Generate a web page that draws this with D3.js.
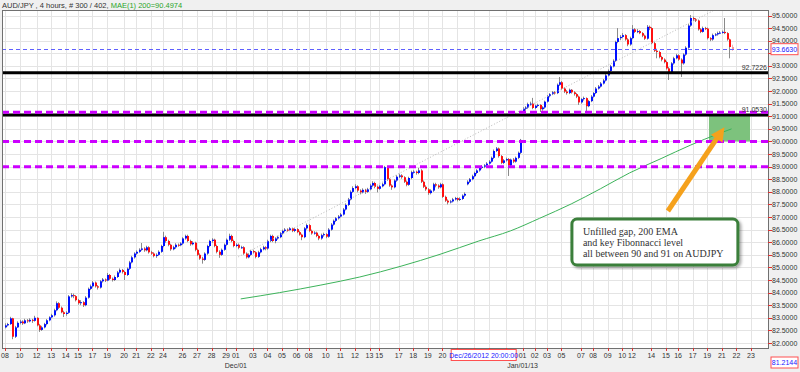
<!DOCTYPE html>
<html>
<head>
<meta charset="utf-8">
<script src="https://cdn.jsdelivr.net/npm/d3@7"></script>
<style>
  body { margin: 0; background: #f0f0f0; }
  svg { display: block; font-family: "Liberation Sans", Arial, sans-serif; }
</style>
</head>
<body>
<div id="vis1"></div>
<script>
// AUD/JPY 4h candles (bar 0 = Nov 08)
const opens = [
  82.62,82.70,82.75,82.98,82.25,82.62,82.80,82.85,82.78,82.90,
  82.86,82.92,82.88,83.00,82.70,82.52,82.62,82.75,82.90,83.02,
  83.10,83.30,83.58,83.40,83.22,83.15,83.20,83.85,83.90,83.86,
  83.70,83.58,83.62,83.50,83.80,84.15,84.25,84.40,84.25,84.20,
  84.45,84.52,84.48,84.70,84.55,84.50,84.62,84.80,84.90,84.82,
  84.70,84.95,85.20,85.40,85.55,85.62,85.70,85.75,85.68,85.80,
  85.60,85.55,85.45,85.50,85.62,85.85,86.20,86.05,85.90,85.72,
  85.80,85.90,85.88,85.95,86.15,86.25,86.05,85.92,85.98,85.70,
  85.50,85.35,85.30,85.55,85.85,86.05,86.10,85.85,85.62,85.50,
  85.70,85.90,86.10,86.25,86.05,85.85,85.90,85.78,85.80,85.55,
  85.40,85.50,85.65,85.60,85.42,85.60,85.72,85.80,85.75,86.05,
  86.25,86.05,86.15,86.20,86.35,86.45,86.50,86.48,86.55,86.45,
  86.52,86.40,86.30,86.20,86.55,86.68,86.45,86.35,86.38,86.25,
  86.15,86.28,86.32,86.22,86.50,86.70,86.85,86.95,87.02,87.10,
  87.30,87.48,87.70,88.00,88.15,88.22,88.05,87.98,88.08,88.00,
  88.10,88.25,88.35,88.20,88.12,88.22,88.30,88.98,88.50,88.25,
  88.18,88.45,88.60,88.65,88.58,88.40,88.28,88.55,88.78,88.80,
  88.75,88.85,88.40,88.20,88.10,87.95,88.05,88.30,88.25,88.18,
  88.30,87.80,87.65,87.58,87.62,87.70,87.75,87.68,87.72,87.85,
  88.30,88.40,88.50,88.62,88.75,88.85,88.95,89.00,89.05,89.12,
  89.20,89.35,89.62,89.72,89.42,89.15,89.25,89.30,89.05,89.28,
  89.20,89.35,89.55,91.20,91.30,91.35,91.48,91.50,91.33,91.42,
  91.45,91.28,91.35,91.58,91.80,91.88,91.95,91.92,92.25,92.35,
  92.10,91.98,91.92,92.05,91.95,91.88,91.78,91.55,91.68,91.72,
  91.40,91.60,91.78,91.92,92.10,92.18,92.30,92.42,92.62,92.80,
  92.98,93.20,93.95,94.10,94.15,94.22,94.05,93.85,94.10,94.45,
  94.35,94.38,94.30,94.20,94.08,94.55,94.50,93.90,93.60,93.55,
  93.35,93.25,93.15,92.90,92.75,93.10,93.30,93.42,93.25,93.10,
  93.45,93.72,94.60,94.90,94.85,94.80,94.45,94.35,94.50,94.48,
  94.10,94.05,94.22,94.25,94.30,94.32,94.35,94.30,94.05,93.75
];
const highs = [
  82.78,82.80,83.04,83.00,82.68,82.86,82.92,82.90,82.96,82.95,
  82.98,82.96,83.08,83.02,82.76,82.68,82.80,82.95,83.06,83.16,
  83.36,83.65,83.62,83.45,83.28,83.26,83.90,83.98,83.96,83.90,
  83.75,83.70,83.66,83.86,84.20,84.32,84.46,84.44,84.30,84.50,
  84.58,84.56,84.78,84.74,84.60,84.68,84.86,84.96,84.94,84.86,
  85.00,85.26,85.46,85.60,85.68,85.76,85.97,85.80,85.86,85.84,
  85.66,85.60,85.56,85.68,85.90,86.41,86.26,86.10,85.94,85.86,
  85.96,85.95,86.00,86.20,86.30,86.30,86.10,86.04,86.02,85.75,
  85.56,85.42,85.60,85.90,86.10,86.16,86.14,85.90,85.68,85.75,
  85.95,86.15,86.34,86.30,86.10,85.96,85.95,85.86,85.84,85.60,
  85.56,85.70,85.70,85.64,85.66,85.78,85.86,85.84,86.10,86.30,
  86.30,86.20,86.26,86.40,86.50,86.56,86.55,86.60,86.58,86.56,
  86.56,86.45,86.34,86.60,86.74,86.72,86.50,86.44,86.42,86.30,
  86.34,86.38,86.36,86.56,86.76,86.90,87.00,87.08,87.16,87.36,
  87.54,87.76,88.06,88.22,88.30,88.26,88.10,88.14,88.12,88.16,
  88.32,88.42,88.40,88.25,88.28,88.36,89.03,89.00,88.55,88.30,
  88.50,88.66,88.72,88.70,88.62,88.45,88.60,88.84,88.86,88.84,
  88.95,88.90,88.45,88.26,88.15,88.10,88.36,88.36,88.30,88.36,
  88.34,87.85,87.70,87.68,87.76,87.80,87.78,87.78,87.90,87.98,
  88.46,88.55,88.68,88.80,88.90,89.00,89.06,89.10,89.18,89.26,
  89.40,89.68,89.78,89.76,89.46,89.30,89.36,89.34,89.32,89.34,
  89.40,89.60,90.10,91.36,91.40,91.54,91.58,91.73,91.46,91.50,
  91.48,91.40,91.62,91.84,91.92,92.00,92.00,92.30,92.56,92.40,
  92.15,92.04,92.10,92.08,92.00,91.92,91.82,91.72,91.78,91.75,
  91.65,91.84,91.96,92.16,92.24,92.36,92.48,92.68,92.86,93.04,
  93.26,94.00,94.50,94.22,94.30,94.26,94.10,94.16,94.62,94.50,
  94.46,94.42,94.34,94.24,94.62,94.60,94.54,93.95,93.68,93.60,
  93.40,93.30,93.20,92.96,93.15,93.36,93.48,93.46,93.30,93.50,
  93.78,94.66,95.02,94.96,94.90,94.84,94.50,94.56,94.55,94.52,
  94.14,94.28,94.30,94.36,94.38,94.40,94.90,94.34,94.08,93.84
];
const lows = [
  82.58,82.66,82.72,82.15,82.20,82.60,82.74,82.72,82.75,82.80,
  82.82,82.80,82.85,82.66,82.44,82.48,82.58,82.70,82.86,82.98,
  83.05,83.26,83.35,83.18,83.03,83.08,83.16,83.80,83.78,83.65,
  83.52,83.50,83.43,83.46,83.76,84.10,84.20,84.20,84.12,84.16,
  84.40,84.42,84.45,84.50,84.44,84.46,84.58,84.76,84.76,84.50,
  84.66,84.90,85.16,85.35,85.50,85.58,85.66,85.62,85.64,85.55,
  85.50,85.40,85.38,85.46,85.58,85.80,85.98,85.84,85.66,85.68,
  85.74,85.82,85.84,85.90,86.10,86.00,85.86,85.88,85.64,85.45,
  85.30,85.15,85.26,85.50,85.80,85.98,85.80,85.56,85.38,85.46,
  85.66,85.86,86.05,86.00,85.80,85.80,85.72,85.74,85.50,85.35,
  85.36,85.46,85.55,85.36,85.38,85.56,85.68,85.68,85.70,86.00,
  86.00,85.96,86.10,86.16,86.30,86.40,86.42,86.44,86.40,86.40,
  86.36,86.26,86.08,86.16,86.50,86.40,86.30,86.30,86.20,86.08,
  86.10,86.22,86.16,86.18,86.46,86.66,86.80,86.90,86.98,87.06,
  87.26,87.44,87.66,87.96,88.10,87.98,87.90,87.94,87.92,87.96,
  88.06,88.20,88.14,87.98,88.08,88.18,88.26,88.44,88.20,88.08,
  88.14,88.40,88.55,88.52,88.35,88.22,88.24,88.50,88.72,88.68,
  88.70,88.35,88.15,88.04,87.88,87.90,88.00,88.18,88.12,88.14,
  87.76,87.60,87.50,87.54,87.58,87.66,87.62,87.64,87.68,87.80,
  88.26,88.35,88.46,88.58,88.70,88.80,88.90,88.94,89.00,89.08,
  89.16,89.30,89.58,89.36,89.10,89.10,89.20,88.63,89.00,89.14,
  89.16,89.30,89.50,91.12,91.22,91.30,91.42,91.28,91.28,91.36,
  91.17,91.22,91.30,91.54,91.75,91.84,91.86,91.88,92.20,92.05,
  91.92,91.86,91.88,91.90,91.82,91.72,91.45,91.50,91.62,91.17,
  91.36,91.56,91.74,91.88,92.06,92.14,92.26,92.38,92.58,92.76,
  92.94,93.16,93.90,94.02,94.10,94.00,93.78,93.80,94.06,94.30,
  94.30,94.26,94.14,94.03,94.04,94.42,93.86,93.55,93.30,93.30,
  93.18,93.10,92.85,92.44,92.70,93.05,93.26,93.20,92.56,93.05,
  93.40,93.68,94.55,94.78,94.74,94.40,94.30,94.32,94.42,94.05,
  93.98,94.00,94.18,94.20,94.26,94.28,94.26,94.00,93.30,93.60
];
const closes = [
  82.70,82.75,82.98,82.25,82.62,82.80,82.85,82.78,82.90,82.86,
  82.92,82.88,83.00,82.70,82.52,82.62,82.75,82.90,83.02,83.10,
  83.30,83.58,83.40,83.22,83.15,83.20,83.85,83.90,83.86,83.70,
  83.58,83.62,83.50,83.80,84.15,84.25,84.40,84.25,84.20,84.45,
  84.52,84.48,84.70,84.55,84.50,84.62,84.80,84.90,84.82,84.70,
  84.95,85.20,85.40,85.55,85.62,85.70,85.75,85.68,85.80,85.60,
  85.55,85.45,85.50,85.62,85.85,86.20,86.05,85.90,85.72,85.80,
  85.90,85.88,85.95,86.15,86.25,86.05,85.92,85.98,85.70,85.50,
  85.35,85.30,85.55,85.85,86.05,86.10,85.85,85.62,85.50,85.70,
  85.90,86.10,86.25,86.05,85.85,85.90,85.78,85.80,85.55,85.40,
  85.50,85.65,85.60,85.42,85.60,85.72,85.80,85.75,86.05,86.25,
  86.05,86.15,86.20,86.35,86.45,86.50,86.48,86.55,86.45,86.52,
  86.40,86.30,86.20,86.55,86.68,86.45,86.35,86.38,86.25,86.15,
  86.28,86.32,86.22,86.50,86.70,86.85,86.95,87.02,87.10,87.30,
  87.48,87.70,88.00,88.15,88.22,88.05,87.98,88.08,88.00,88.10,
  88.25,88.35,88.20,88.12,88.22,88.30,88.98,88.50,88.25,88.18,
  88.45,88.60,88.65,88.58,88.40,88.28,88.55,88.78,88.80,88.75,
  88.85,88.40,88.20,88.10,87.95,88.05,88.30,88.25,88.18,88.30,
  87.80,87.65,87.58,87.62,87.70,87.75,87.68,87.72,87.85,87.92,
  88.40,88.50,88.62,88.75,88.85,88.95,89.00,89.05,89.12,89.20,
  89.35,89.62,89.72,89.42,89.15,89.25,89.30,89.05,89.28,89.20,
  89.35,89.55,90.06,91.30,91.35,91.48,91.50,91.33,91.42,91.45,
  91.28,91.35,91.58,91.80,91.88,91.95,91.92,92.25,92.35,92.10,
  91.98,91.92,92.05,91.95,91.88,91.78,91.55,91.68,91.72,91.40,
  91.60,91.78,91.92,92.10,92.18,92.30,92.42,92.62,92.80,92.98,
  93.20,93.95,94.10,94.15,94.22,94.05,93.85,94.10,94.45,94.35,
  94.38,94.30,94.20,94.08,94.55,94.50,93.90,93.60,93.55,93.35,
  93.25,93.15,92.90,92.75,93.10,93.30,93.42,93.25,93.10,93.45,
  93.72,94.60,94.90,94.85,94.80,94.45,94.35,94.50,94.48,94.10,
  94.05,94.22,94.25,94.30,94.32,94.35,94.30,94.05,93.75,93.66
];

// 200 EMA, read at a few bars
const emaBars   = [97, 113, 130, 146, 163, 179, 195, 208, 220, 233, 245, 257, 270, 282, 294, 299];
const emaValues = [83.75, 84.00, 84.30, 84.62, 85.05, 85.52, 86.05, 86.45, 86.95, 87.52, 88.12, 88.75, 89.32, 89.85, 90.32, 90.50];

// dotted trend line (two anchor points)
const trendBars   = [96, 292];
const trendPrices = [85.42, 95.22];

// horizontal levels
const magentaLevels = [91.16, 90.0, 89.0];
const blackLevels   = [92.7226, 91.05];
const blackLabels   = ["92.7226", "91.0530"];
const lastPrice = 93.6630;
const lowLabel  = "81.2144";

// axis ticks (93.5 sits under the last-price box, so it gets no label)
const yTicks = [82, 82.5, 83, 83.5, 84, 84.5, 85, 85.5, 86, 86.5, 87, 87.5, 88, 88.5,
                89, 89.5, 90, 90.5, 91, 91.5, 92, 92.5, 93, 93.5, 94, 94.5, 95];
const yHiddenLabel = 93.5;
const tickBars = [0, 6, 13, 19, 25, 30, 36, 42, 49, 54, 60, 65, 73, 79, 85, 91, 95, 102, 108, 114,
                  120, 125, 132, 138, 144, 150, 154, 162, 168, 174, 180,
                  213, 218, 223, 229, 237, 242, 248, 254, 258, 266, 272, 277, 283, 289, 295, 301, 307];
const tickLabels = ["08","10","12","13","14","15","17","19","20","21","22","24","26","27","28","29","01","03","04","05",
                    "06","08","10","11","12","13","15","17","18","19","20",
                    "01","02","03","05","07","08","09","10","12","14","15","16","17","19","21","22","23"];
// day ticks hidden under the cursor date box (grid only)
const hiddenTickBars = [186, 193, 199, 206];
const monthTicks = [{bar: 95, label: "Dec/01"}, {bar: 213, label: "Jan/01/13"}];
const cursorBar = 197, cursorLabel = "Dec/26/2012 20:00:00";

// annotation
const gapZone = {from: 289.7, to: 306.6, lo: 90.0, hi: 91.05};
const noteLines = ["Unfilled gap, 200 EMA", "and key Fibonnacci level", "all between 90 and 91 on AUDJPY"];

const W = 800, H = 372;
const plot = {left: 2, right: 768, top: 10, bottom: 348};

let svg = d3.select('#vis1').append('svg')
  .attr('width', W)
  .attr('height', H);

svg.append('rect').attr('width', W).attr('height', H).attr('fill', '#f0f0f0');

let x = d3.scaleLinear().domain([0, 300]).range([5, 734]);
let y = d3.scaleLinear().domain([82, 95]).range([343, 15.5]);

let allTicks = tickBars.concat(hiddenTickBars);

svg.append('clipPath').attr('id', 'clip')
  .append('rect')
  .attr('x', plot.left).attr('y', plot.top)
  .attr('width', plot.right - plot.left).attr('height', plot.bottom - plot.top);

// plot background
svg.append('rect')
  .attr('x', plot.left).attr('y', plot.top)
  .attr('width', plot.right - plot.left).attr('height', plot.bottom - plot.top)
  .attr('fill', '#fff');

let g = svg.append('g').attr('clip-path', 'url(#clip)');

// grid
g.append('g').selectAll('line').data(yTicks).join('line')
  .attr('x1', plot.left).attr('x2', plot.right)
  .attr('y1', d => Math.round(y(d)) + 0.5).attr('y2', d => Math.round(y(d)) + 0.5)
  .attr('stroke', '#e4e4e4');
g.append('g').selectAll('line').data(allTicks).join('line')
  .attr('x1', d => Math.round(x(d)) + 0.5).attr('x2', d => Math.round(x(d)) + 0.5)
  .attr('y1', plot.top).attr('y2', plot.bottom)
  .attr('stroke', '#e4e4e4');

// gap zone
g.append('rect')
  .attr('x', x(gapZone.from)).attr('width', x(gapZone.to) - x(gapZone.from))
  .attr('y', y(gapZone.hi)).attr('height', y(gapZone.lo) - y(gapZone.hi))
  .attr('fill', '#7dc27d');

// candles
let bars = closes.map((c, i) => ({i, o: opens[i], h: highs[i], l: lows[i], c}));

g.append('g').selectAll('line').data(bars).join('line')
  .attr('x1', d => Math.round(x(d.i)) + 0.5).attr('x2', d => Math.round(x(d.i)) + 0.5)
  .attr('y1', d => y(d.h)).attr('y2', d => y(d.l))
  .attr('stroke', d => d.i === bars.length - 1 ? '#f4b0b0' : '#8a8a8a');

g.append('g').selectAll('rect').data(bars).join('rect')
  .attr('x', d => Math.round(x(d.i)))
  .attr('width', 2)
  .attr('y', d => y(Math.max(d.o, d.c)))
  .attr('height', d => Math.max(1, Math.abs(y(d.o) - y(d.c))))
  .attr('fill', d => d.i === bars.length - 1 ? '#f79a9a' : (d.c >= d.o ? '#0010ff' : '#ff1010'));

// EMA
g.append('path')
  .datum(emaBars.map((b, i) => [b, emaValues[i]]))
  .attr('fill', 'none')
  .attr('stroke', '#3cb35a')
  .attr('stroke-width', 1)
  .attr('d', d3.line().x(d => x(d[0])).y(d => y(d[1])).curve(d3.curveMonotoneX));

// trend line
g.append('line')
  .attr('x1', x(trendBars[0])).attr('y1', y(trendPrices[0]))
  .attr('x2', x(trendBars[1])).attr('y2', y(trendPrices[1]))
  .attr('stroke', '#b8b8b8').attr('stroke-dasharray', '1,2');

// levels
g.append('line')
  .attr('x1', plot.left).attr('x2', plot.right)
  .attr('y1', Math.round(y(lastPrice)) + 0.5).attr('y2', Math.round(y(lastPrice)) + 0.5)
  .attr('stroke', '#6060ff').attr('stroke-dasharray', '4,3');

g.append('g').selectAll('line').data(blackLevels).join('line')
  .attr('x1', plot.left).attr('x2', plot.right)
  .attr('y1', d => y(d)).attr('y2', d => y(d))
  .attr('stroke', '#000').attr('stroke-width', 3);

g.append('g').selectAll('line').data(magentaLevels).join('line')
  .attr('x1', plot.left).attr('x2', plot.right)
  .attr('y1', d => y(d)).attr('y2', d => y(d))
  .attr('stroke', '#cc00ff').attr('stroke-width', 3)
  .attr('stroke-dasharray', '7,4');

svg.append('g').selectAll('text').data(blackLevels).join('text')
  .attr('x', plot.right - 1).attr('y', d => y(d) - 3)
  .attr('text-anchor', 'end')
  .attr('font-size', 7)
  .attr('fill', '#333')
  .text((d, i) => blackLabels[i]);

// arrow
let defs = svg.append('defs');
defs.append('marker')
  .attr('id', 'head')
  .attr('viewBox', '0 -5 10 10')
  .attr('refX', 2).attr('refY', 0)
  .attr('markerUnits', 'userSpaceOnUse')
  .attr('markerWidth', 14).attr('markerHeight', 14)
  .attr('orient', 'auto')
  .append('path').attr('d', 'M0,-5L10,0L0,5Z').attr('fill', '#f5a11c');
defs.append('filter').attr('id', 'shadow')
  .append('feDropShadow')
  .attr('dx', 2).attr('dy', 2).attr('stdDeviation', 1.5)
  .attr('flood-color', '#000').attr('flood-opacity', 0.35);

svg.append('line')
  .attr('x1', x(272.8)).attr('y1', y(87.24))
  .attr('x2', x(293.5)).attr('y2', y(90.2))
  .attr('stroke', '#f5a11c').attr('stroke-width', 5)
  .attr('marker-end', 'url(#head)');

// callout
let note = svg.append('g');
note.append('rect')
  .attr('x', x(233.3)).attr('y', y(86.92))
  .attr('width', x(301.6) - x(233.3)).attr('height', y(85.1) - y(86.92))
  .attr('rx', 5)
  .attr('fill', '#fff')
  .attr('stroke', '#3a7f3a').attr('stroke-width', 3)
  .attr('filter', 'url(#shadow)');
note.selectAll('text').data(noteLines).join('text')
  .attr('x', x(233.3) + 11)
  .attr('y', (d, i) => y(86.92) + 16 + i * 11)
  .attr('font-family', '"Liberation Serif", "DejaVu Serif", serif')
  .attr('font-size', 10)
  .attr('fill', '#333')
  .text(d => d);

// frame
svg.append('rect')
  .attr('x', plot.left + 0.5).attr('y', plot.top + 0.5)
  .attr('width', plot.right - plot.left).attr('height', plot.bottom - plot.top)
  .attr('fill', 'none').attr('stroke', '#707070');

// right axis
svg.append('g').selectAll('line').data(yTicks).join('line')
  .attr('x1', plot.right).attr('x2', plot.right + 4)
  .attr('y1', d => Math.round(y(d)) + 0.5).attr('y2', d => Math.round(y(d)) + 0.5)
  .attr('stroke', '#e03030');
svg.append('g').selectAll('text').data(yTicks.filter(d => d !== yHiddenLabel)).join('text')
  .attr('x', plot.right + 4).attr('y', d => y(d) + 2.5)
  .attr('font-size', 7)
  .attr('fill', '#333')
  .text(d => d.toFixed(4));

// value boxes
function valueBox(cx, cy, label) {
  let b = svg.append('g');
  b.append('rect')
    .attr('x', cx).attr('y', cy - 5.5).attr('width', 27).attr('height', 11)
    .attr('fill', '#fff').attr('stroke', '#ff5050');
  b.append('text')
    .attr('x', cx + 13.5).attr('y', cy + 2.5)
    .attr('text-anchor', 'middle').attr('font-size', 7).attr('fill', '#2020ff')
    .text(label);
}
valueBox(plot.right + 3, y(lastPrice), lastPrice.toFixed(4));
valueBox(plot.right + 3, 362.5, lowLabel);

// bottom axis
svg.append('g').selectAll('line').data(allTicks).join('line')
  .attr('x1', d => Math.round(x(d)) + 0.5).attr('x2', d => Math.round(x(d)) + 0.5)
  .attr('y1', plot.bottom).attr('y2', plot.bottom + 3)
  .attr('stroke', '#e03030');
svg.append('g').selectAll('text').data(tickBars).join('text')
  .attr('x', d => x(d)).attr('y', 358)
  .attr('text-anchor', 'middle')
  .attr('font-size', 7)
  .attr('fill', '#333')
  .text((d, i) => tickLabels[i]);
svg.append('g').selectAll('text').data(monthTicks).join('text')
  .attr('x', d => x(d.bar)).attr('y', 368)
  .attr('text-anchor', 'middle')
  .attr('font-size', 7)
  .attr('fill', '#333')
  .text(d => d.label);

// cursor date box
let cb = svg.append('g');
cb.append('rect')
  .attr('x', x(cursorBar) - 32.5).attr('y', 349.5).attr('width', 65).attr('height', 11)
  .attr('fill', '#fff').attr('stroke', '#ff5050');
cb.append('text')
  .attr('x', x(cursorBar)).attr('y', 358)
  .attr('text-anchor', 'middle').attr('font-size', 7).attr('fill', '#2020ff')
  .text(cursorLabel);

// title
let title = svg.append('text').attr('x', 2).attr('y', 8).attr('font-size', 7.5);
title.append('tspan').attr('fill', '#333').text('AUD/JPY , 4 hours, # 300 / 402, ');
title.append('tspan').attr('fill', '#2aa52a').text('MAE(1) 200=90.4974');
</script>
</body>
</html>
